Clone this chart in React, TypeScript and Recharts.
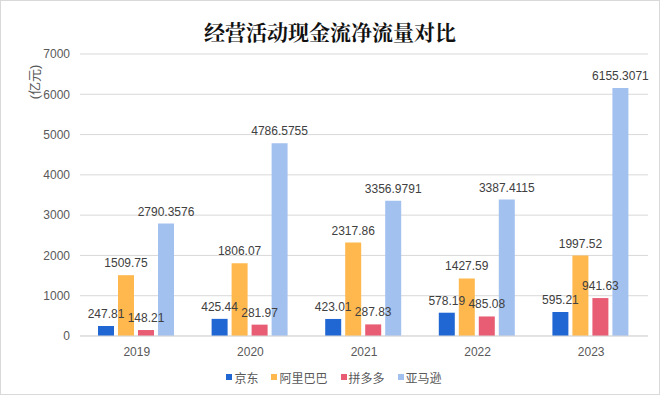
import React from 'react';
import { BarChart, Bar, XAxis, YAxis, CartesianGrid, Legend, LabelList } from 'recharts';

const years = ['2019', '2020', '2021', '2022', '2023'];
const jd = [247.81, 425.44, 423.01, 578.19, 595.21];
const ali = [1509.75, 1806.07, 2317.86, 1427.59, 1997.52];
const pdd = [148.21, 281.97, 287.83, 485.08, 941.63];
const amzn = [2790.3576, 4786.5755, 3356.9791, 3387.4115, 6155.3071];
const yTicks = [0, 1000, 2000, 3000, 4000, 5000, 6000, 7000];

const series = [
  { key: 'jd', name: '京东', color: '#2167D3' },
  { key: 'ali', name: '阿里巴巴', color: '#FFB84D' },
  { key: 'pdd', name: '拼多多', color: '#E85D74' },
  { key: 'amzn', name: '亚马逊', color: '#A3C1EF' },
];

const data = years.map((y, i) => ({ year: y, jd: jd[i], ali: ali[i], pdd: pdd[i], amzn: amzn[i] }));

const FONT = '"Liberation Sans", Arial, "Noto Sans CJK SC", sans-serif';

const LegendContent = () => (
  <div style={{ display: 'flex', justifyContent: 'center', alignItems: 'center', fontFamily: FONT, fontSize: 12, color: '#595959', height: 20, paddingLeft: 5 }}>
    {series.map((s, i) => (
      <div key={s.key} style={{ display: 'flex', alignItems: 'center', marginRight: i === series.length - 1 ? 0 : 13 }}>
        <span style={{ display: 'inline-block', width: 6, height: 6, background: s.color, marginRight: 2 }} />
        <span>{s.name}</span>
      </div>
    ))}
  </div>
);

const YLabel = (props: any) => {
  const vb = props.viewBox || { x: 0, y: 0 };
  const cx = 34;
  const cy = vb.y + 28;
  return (
    <text x={cx} y={cy} transform={`rotate(-90 ${cx} ${cy})`} textAnchor="middle" dominantBaseline="central" fill="#595959" fontSize={13} fontFamily={FONT}>
      (亿元)
    </text>
  );
};

export default function App() {
  return (
    <div style={{ position: 'absolute', left: 0, top: 0, width: 663, height: 396, background: '#fff' }}>
      <div style={{ position: 'absolute', left: 0, top: 0, width: 660, height: 395, boxSizing: 'border-box', border: '1px solid #d9d9d9' }} />
      <div style={{ position: 'absolute', left: 0, top: 17, width: 660, textAlign: 'center', fontFamily: '"Noto Serif CJK SC", "Noto Sans CJK SC", serif', fontWeight: 700, fontSize: 21, color: '#111', lineHeight: '28px' }}>
        经营活动现金流净流量对比
      </div>
      <BarChart
        width={663}
        height={396}
        data={data}
        margin={{ top: 54, right: 15, bottom: 10, left: 0 }}
        barCategoryGap={18}
        barGap={4}
        style={{ position: 'absolute', left: 0, top: 0 }}
      >
        <CartesianGrid vertical={false} stroke="#d9d9d9" />
        <XAxis
          dataKey="year"
          axisLine={{ stroke: '#d9d9d9' }}
          tickLine={false}
          tickMargin={5}
          height={30}
          tick={{ fontSize: 12, fill: '#595959', fontFamily: FONT }}
        />
        <YAxis
          width={80}
          domain={[0, 7000]}
          ticks={yTicks}
          axisLine={false}
          tickLine={false}
          tickMargin={4}
          tick={{ fontSize: 12, fill: '#595959', fontFamily: FONT }}
          label={<YLabel />}
        />
        <Legend
          verticalAlign="bottom"
          content={<LegendContent />}
          wrapperStyle={{ position: 'absolute', left: 0, top: 367, width: 663, height: 20 }}
        />
        {series.map((s) => (
          <Bar key={s.key} dataKey={s.key} name={s.name} fill={s.color} isAnimationActive={false}>
            <LabelList dataKey={s.key} position="top" offset={8} fill="#404040" fontSize={12} fontFamily={FONT} />
          </Bar>
        ))}
      </BarChart>
    </div>
  );
}
